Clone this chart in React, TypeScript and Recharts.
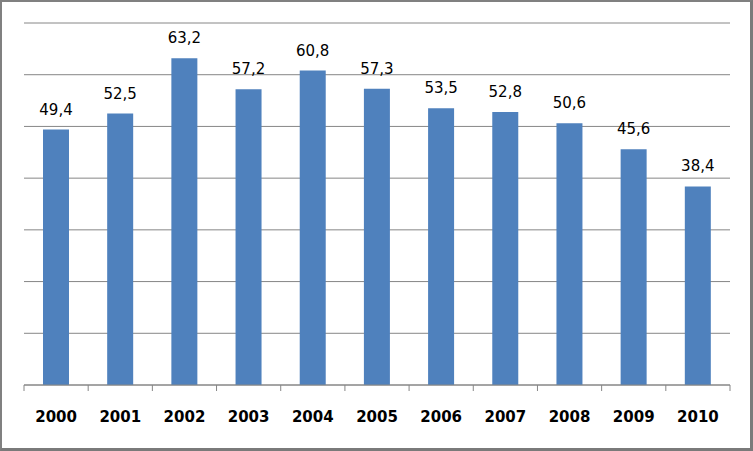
import React from "react";
import { BarChart, Bar, XAxis, YAxis, CartesianGrid, LabelList } from "recharts";

const years = ["2000", "2001", "2002", "2003", "2004", "2005", "2006", "2007", "2008", "2009", "2010"];
const values = [49.4, 52.5, 63.2, 57.2, 60.8, 57.3, 53.5, 52.8, 50.6, 45.6, 38.4];
const yTicks = [0, 10, 20, 30, 40, 50, 60, 70];

const data = years.map((year, i) => ({ year, value: values[i] }));

const W = 753;
const H = 451;
const M = { top: 23, right: 23, left: 24, bottom: 0 };
const XH = 66;
const AXIS_Y = H - M.bottom - XH;
const BAND = (W - M.left - M.right) / years.length;
const GRID = "#868686";
const FONT = "'DejaVu Sans', sans-serif";

const fmt = (v: any) => String(v).replace(".", ",");

const YearTick = (props: any) => {
  const { x, payload, index } = props;
  const half = BAND / 2;
  return (
    <g>
      <line x1={x - half} y1={AXIS_Y} x2={x - half} y2={AXIS_Y + 6} stroke={GRID} strokeWidth={1} />
      {index === years.length - 1 && (
        <line x1={x + half} y1={AXIS_Y} x2={x + half} y2={AXIS_Y + 6} stroke={GRID} strokeWidth={1} />
      )}
      <text x={x} y={AXIS_Y + 37} textAnchor="middle" fontFamily={FONT} fontWeight="bold" fontSize={15} fill="#000">
        {payload.value}
      </text>
    </g>
  );
};

export default function App() {
  return (
    <div style={{ position: "absolute", left: 0, top: 0, width: W, height: H, background: "#fff" }}>
      <BarChart width={W} height={H} data={data} margin={M}>
        <CartesianGrid vertical={false} stroke={GRID} strokeWidth={1} />
        <YAxis hide domain={[0, 70]} ticks={yTicks} type="number" />
        <XAxis
          dataKey="year"
          height={XH}
          tickLine={false}
          axisLine={{ stroke: GRID, strokeWidth: 1 }}
          tick={<YearTick />}
          interval={0}
        />
        <Bar dataKey="value" fill="#4F81BD" barSize={26} isAnimationActive={false}>
          <LabelList
            dataKey="value"
            position="top"
            offset={15}
            formatter={fmt}
            style={{ fontFamily: FONT, fontSize: 15, fill: "#000" }}
          />
        </Bar>
      </BarChart>
      <div
        style={{
          position: "absolute",
          left: 0,
          top: 0,
          width: W,
          height: H,
          boxSizing: "border-box",
          borderLeft: "2px solid #808080",
          borderTop: "2px solid #808080",
          borderRight: "3px solid #7a7a7a",
          borderBottom: "3px solid #7a7a7a",
          pointerEvents: "none",
        }}
      />
    </div>
  );
}
